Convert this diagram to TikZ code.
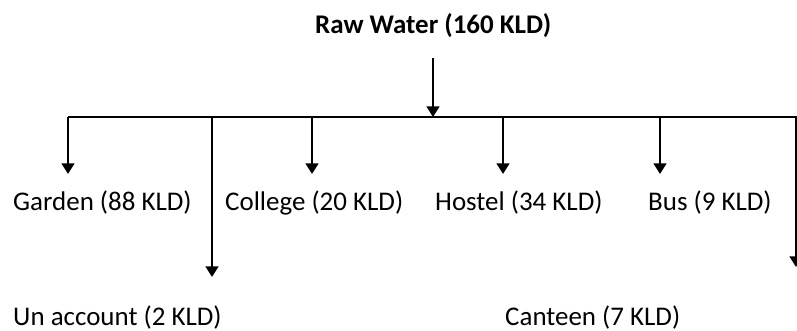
\documentclass[tikz,border=0pt]{standalone}
\usepackage{fontspec}
\setmainfont{Carlito}
\usetikzlibrary{arrows.meta}

\begin{document}
\begin{tikzpicture}[x=0.03cm,y=-0.03cm,
    lbl/.style={font=\fontsize{23}{27}\selectfont,inner sep=0pt,anchor=base west},
    head/.style={lbl,font=\fontsize{23}{27}\selectfont\bfseries},
    feed/.style={line width=1.2pt,black},
    arr/.style={-{Triangle[length=3.2mm,width=3.8mm]},line width=2.2pt,black}]
  \useasboundingbox (0,0) rectangle (797,330);
  \node[head] (raw) at (315,33) {Raw Water (160 KLD)};

  \node[lbl] (garden)  at (13,210)  {Garden (88 KLD)};
  \node[lbl] (college) at (225,210) {College (20 KLD)};
  \node[lbl] (hostel)  at (435,210) {Hostel (34 KLD)};
  \node[lbl] (bus)     at (648,210) {Bus (9 KLD)};
  \node[lbl] (unacc)   at (13,325)  {Un account (2 KLD)};
  \node[lbl] (canteen) at (505,325) {Canteen (7 KLD)};

  % feed line
  \coordinate (jGarden)  at (68,117);
  \coordinate (jUnacc)   at (212,117);
  \coordinate (jCollege) at (312,117);
  \coordinate (jRaw)     at (433,117);
  \coordinate (jHostel)  at (503,117);
  \coordinate (jBus)     at (660,117);
  \coordinate (jCanteen) at (796,117);
  \coordinate (jEnd)     at (797,117);
  \draw[feed] (jGarden) -- (jEnd);

  \coordinate (sRaw)     at (433,58);
  \coordinate (tGarden)  at (68,174);
  \coordinate (tUnacc)   at (212,277);
  \coordinate (tCollege) at (312,174);
  \coordinate (tHostel)  at (503,174);
  \coordinate (tBus)     at (660,174);
  \coordinate (tCanteen) at (796,267);

  \draw[arr] (sRaw) -- (jRaw);
  \draw[arr] (jGarden)  -- (tGarden);
  \draw[arr] (jUnacc)   -- (tUnacc);
  \draw[arr] (jCollege) -- (tCollege);
  \draw[arr] (jHostel)  -- (tHostel);
  \draw[arr] (jBus)     -- (tBus);
  \draw[arr] (jCanteen) -- (tCanteen);
\end{tikzpicture}
\end{document}
